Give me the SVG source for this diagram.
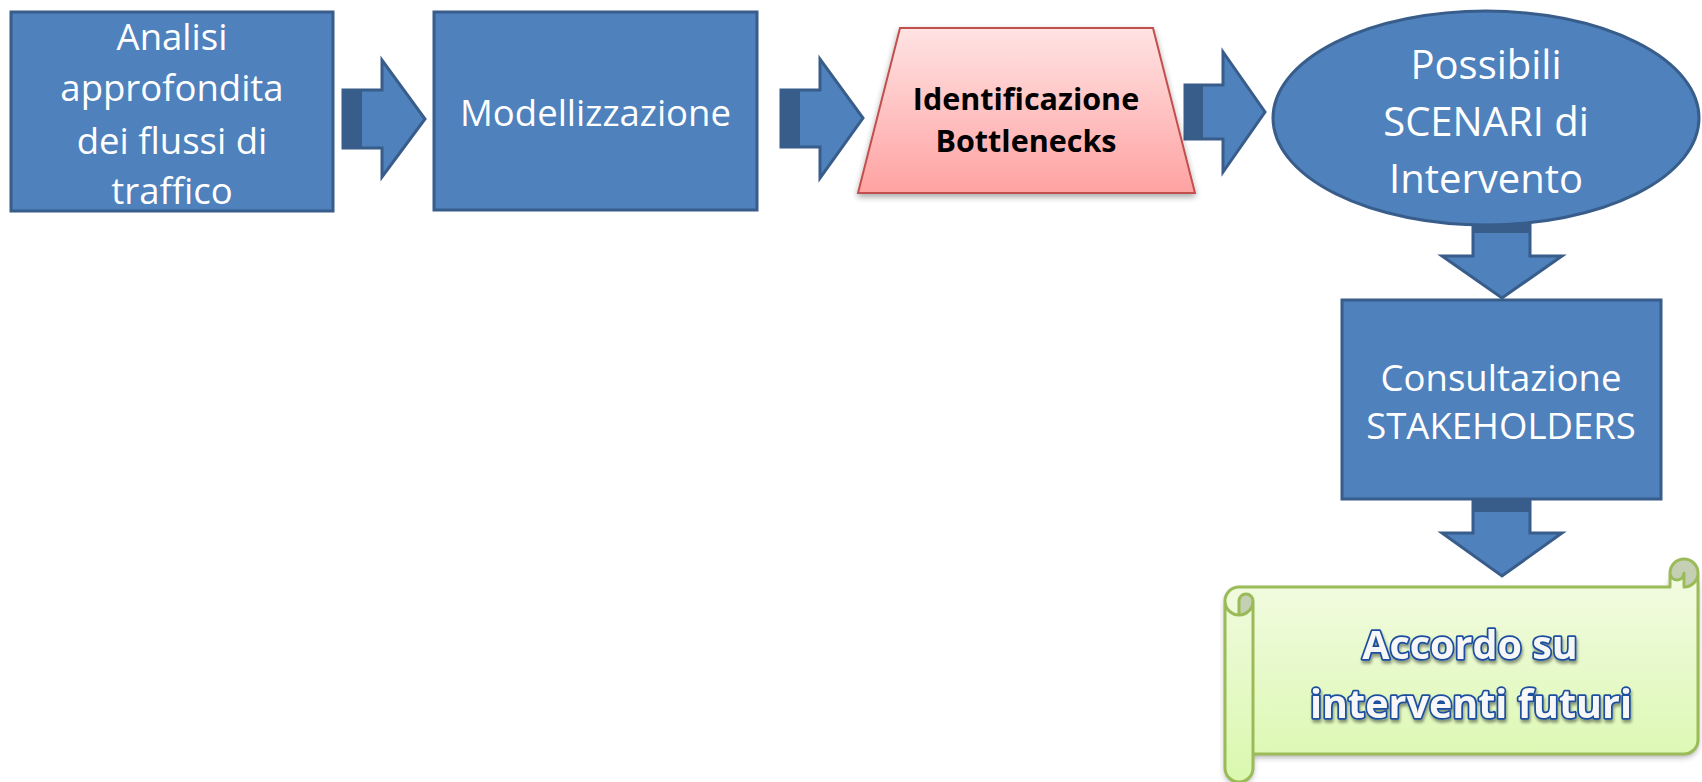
<svg xmlns="http://www.w3.org/2000/svg" width="1702" height="782" viewBox="0 0 1702 782">
<defs>
<linearGradient id="gRed" x1="0" y1="0" x2="0" y2="1">
<stop offset="0" stop-color="#FFE3E3"/>
<stop offset="1" stop-color="#FFA2A2"/>
</linearGradient>
<linearGradient id="gGreen" x1="0" y1="0" x2="0" y2="1">
<stop offset="0" stop-color="#F2FBE2"/>
<stop offset="1" stop-color="#DAF8AE"/>
</linearGradient>
<filter id="shadow" x="-10%" y="-10%" width="120%" height="130%">
<feGaussianBlur in="SourceAlpha" stdDeviation="3"/>
<feOffset dx="0" dy="3" result="b"/>
<feComponentTransfer><feFuncA type="linear" slope="0.35"/></feComponentTransfer>
<feMerge><feMergeNode/><feMergeNode in="SourceGraphic"/></feMerge>
</filter>
<filter id="tshadow" x="-10%" y="-20%" width="120%" height="150%">
<feGaussianBlur in="SourceAlpha" stdDeviation="1.5"/>
<feOffset dx="1" dy="3" result="b"/>
<feComponentTransfer><feFuncA type="linear" slope="0.4"/></feComponentTransfer>
<feMerge><feMergeNode/><feMergeNode in="SourceGraphic"/></feMerge>
</filter>
</defs>
<style>
.box{fill:#4F81BD;stroke:#385D8A;stroke-width:3}
.arr{fill:#4F81BD;stroke:#385D8A;stroke-width:3;stroke-linejoin:miter}
.dark{fill:#385D8A}
.t{font-family:"Open Sans","Liberation Sans",sans-serif;fill:#FFFFFF;text-anchor:middle}
.tb{font-family:"Open Sans","Liberation Sans",sans-serif;font-weight:bold;fill:#000000;text-anchor:middle}
.ts{font-family:"Open Sans","Liberation Sans",sans-serif;font-weight:bold;fill:#F7F7F7;stroke:#1A4E9E;stroke-width:3.5;stroke-linejoin:round;paint-order:stroke;text-anchor:middle}
</style>

<g id="connectors">
<g id="arrow1">
<path class="arr" d="M343,90 L382,90 L382,60 L425,119 L382,177 L382,148 L343,148 Z"/>
<rect class="dark" x="343" y="90" width="19" height="58"/>
</g>
<g id="arrow2">
<path class="arr" d="M781,90 L820,90 L820,59 L863,118 L820,178 L820,147 L781,147 Z"/>
<rect class="dark" x="781" y="90" width="19" height="57"/>
</g>
<g id="arrow3">
<path class="arr" d="M1185,85 L1223,85 L1223,52 L1265,112 L1223,172 L1223,139 L1185,139 Z"/>
<rect class="dark" x="1185" y="85" width="18" height="54"/>
</g>
<g id="arrow4">
<path class="arr" d="M1473,212 L1530,212 L1530,256 L1562,256 L1502,298 L1442,256 L1473,256 Z"/>
<rect class="dark" x="1473" y="212" width="57" height="21"/>
</g>
<g id="arrow5">
<path class="arr" d="M1473,499 L1530,499 L1530,533 L1562,533 L1502,576 L1442,533 L1473,533 Z"/>
<rect class="dark" x="1473" y="499" width="57" height="13"/>
</g>
</g>

<g id="node-analisi">
<rect class="box" x="11" y="12" width="322" height="199"/>
<text class="t" font-size="36.5"><tspan x="172" y="50">Analisi</tspan><tspan x="172" y="101">approfondita</tspan><tspan x="172" y="154">dei flussi di</tspan><tspan x="172" y="204">traffico</tspan></text>
</g>

<g id="node-modellizzazione">
<rect class="box" x="434" y="12" width="323" height="198"/>
<text class="t" font-size="36.5" x="595.5" y="126">Modellizzazione</text>
</g>

<g id="node-bottlenecks">
<path d="M900,28 L1153,28 L1195,193 L858,193 Z" fill="url(#gRed)" stroke="#C0504D" stroke-width="2" filter="url(#shadow)"/>
<text class="tb" font-size="30.5"><tspan x="1026" y="110">Identificazione</tspan><tspan x="1026" y="152">Bottlenecks</tspan></text>
</g>

<g id="node-scenari">
<ellipse cx="1486" cy="118" rx="213" ry="107" fill="#4F81BD" stroke="#385D8A" stroke-width="3"/>
<text class="t" font-size="40"><tspan x="1486" y="79">Possibili</tspan><tspan x="1486" y="136">SCENARI di</tspan><tspan x="1486" y="193">Intervento</tspan></text>
</g>

<g id="node-stakeholders">
<rect class="box" x="1342" y="300" width="319" height="199"/>
<text class="t" font-size="36.5"><tspan x="1501" y="391">Consultazione</tspan><tspan x="1501" y="439">STAKEHOLDERS</tspan></text>
</g>

<g id="node-accordo">
<g filter="url(#shadow)">
<path d="M1698,573 A14,14 0 0 1 1684,587 L1684,573 A7,7 0 0 1 1670,573 L1670,587 L1239,587 A14,14 0 0 0 1225,601 L1225,768 A14,14 0 0 0 1253,768 L1253,754 L1684,754 A14,14 0 0 0 1698,740 Z M1239,615 A14,14 0 0 0 1253,601 A7,7 0 0 0 1239,601 Z" fill="url(#gGreen)"/>
</g>
<path d="M1239,615 A14,14 0 0 0 1253,601 A7,7 0 0 0 1239,601 Z M1684,587 A14,14 0 1 0 1670,573 A7,7 0 0 0 1684,573 Z" fill="#C5CFB4"/>
<path d="M1225,601 A14,14 0 0 1 1239,587 L1670,587 L1670,573 A14,14 0 0 1 1698,573 L1698,740 A14,14 0 0 1 1684,754 L1253,754 L1253,768 A14,14 0 0 1 1225,768 Z M1698,573 A14,14 0 0 1 1684,587 L1684,573 A7,7 0 0 1 1670,573 M1239,615 L1239,601 A7,7 0 0 1 1253,601 A14,14 0 0 1 1225,601 M1253,601 L1253,754" fill="none" stroke="#9BBB59" stroke-width="3" stroke-linejoin="round"/>
<text class="ts" font-size="39.5" filter="url(#tshadow)"><tspan x="1470" y="659">Accordo su</tspan><tspan x="1471" y="718">interventi futuri</tspan></text>
</g>
</svg>
